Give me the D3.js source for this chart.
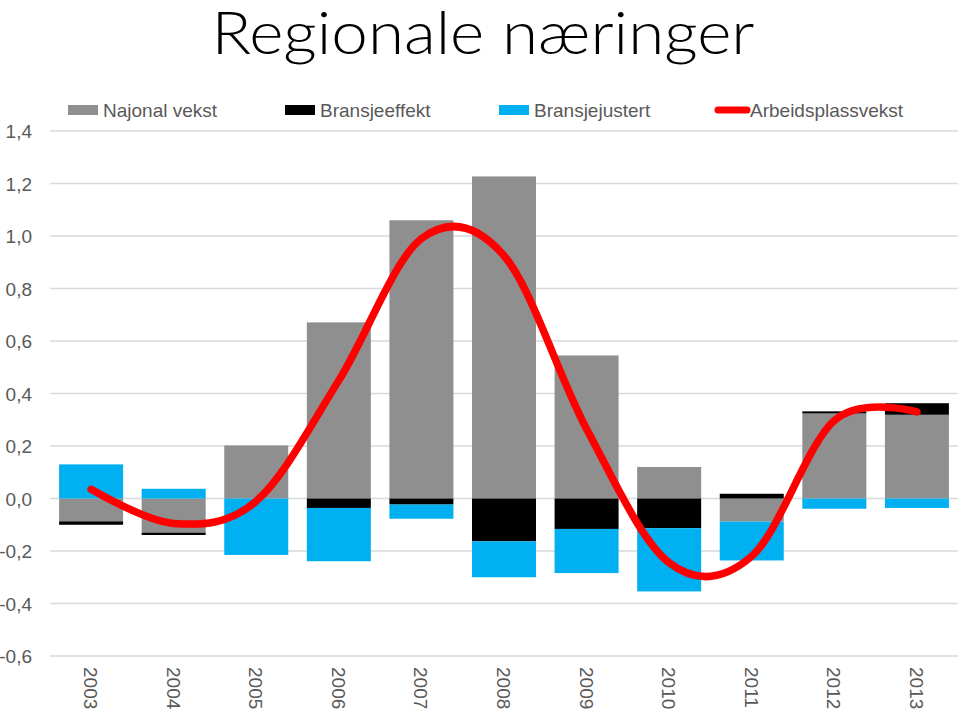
<!DOCTYPE html>
<html><head><meta charset="utf-8">
<script src="https://cdn.jsdelivr.net/npm/d3@7"></script>
<style>body{margin:0;background:#fff}svg{display:block}</style>
</head><body>
<script>
const years = ["2003","2004","2005","2006","2007","2008","2009","2010","2011","2012","2013"];
const najonalVekst   = [-0.087,-0.130, 0.202, 0.671, 1.060, 1.227, 0.545, 0.120,-0.088, 0.324, 0.319];
const bransjeeffekt  = [-0.013,-0.009, 0.000,-0.036,-0.023,-0.163,-0.116,-0.113, 0.018, 0.008, 0.044];
const bransjejustert = [ 0.130, 0.037,-0.215,-0.203,-0.054,-0.137,-0.168,-0.241,-0.148,-0.039,-0.036];
const arbeidsplassvekst = [0.035,-0.095,-0.010,0.450,0.990,0.925,0.265,-0.245,-0.220,0.297,0.330];
const yTicks = [-0.6,-0.4,-0.2,0,0.2,0.4,0.6,0.8,1.0,1.2,1.4];
const seriesNames = ["Najonal vekst","Bransjeeffekt","Bransjejustert","Arbeidsplassvekst"];
const colors = ["#8f8f8f","#000000","#00b0f0","#ff0000"];

const W=960,H=710;
const svg=d3.select("body").append("svg").attr("width",W).attr("height",H);
const x=d3.scaleBand().domain(years).range([50,958]).paddingInner(0.225).paddingOuter(0.11);
const y=d3.scaleLinear().domain([-0.6,1.4]).range([656,131]);

svg.append("text").attr("x",483).attr("y",54).attr("text-anchor","middle")
  .attr("textLength",543).attr("lengthAdjust","spacingAndGlyphs")
  .style("font-family","Lato, 'Open Sans', sans-serif").style("font-weight",300)
  .style("font-size","60px").attr("fill","#000").text("Regionale næringer");

// grid
svg.append("g").selectAll("line").data(yTicks).join("line")
  .attr("x1",50).attr("x2",958).attr("y1",d=>y(d)).attr("y2",d=>y(d))
  .attr("stroke","#d9d9d9").attr("stroke-width",1.3);

// y labels
svg.append("g").selectAll("text").data(yTicks).join("text")
  .attr("x",32).attr("y",d=>y(d)+7).attr("text-anchor","end")
  .style("font-family","'Liberation Sans', Arial, sans-serif").style("font-size","19px")
  .attr("fill","#595959").text(d=>d3.format(".1f")(d).replace(".",",").replace("−","-"));

// stacked bars
const table=years.map((yr,i)=>({year:yr,a:najonalVekst[i],b:bransjeeffekt[i],c:bransjejustert[i]}));
const stack=d3.stack().keys(["a","b","c"]).offset(d3.stackOffsetDiverging)(table);
svg.append("g").selectAll("g").data(stack).join("g").attr("fill",(d,i)=>colors[i])
  .selectAll("rect").data(d=>d).join("rect")
  .attr("x",d=>x(d.data.year)).attr("width",x.bandwidth())
  .attr("y",d=>y(Math.max(d[0],d[1]))).attr("height",d=>Math.abs(y(d[0])-y(d[1])));

// line
const line=d3.line().x((d,i)=>x(years[i])+x.bandwidth()/2).y(d=>y(d)).curve(d3.curveCatmullRom.alpha(0));
svg.append("path").datum(arbeidsplassvekst).attr("d",line).attr("fill","none")
  .attr("stroke","#ff0000").attr("stroke-width",7.5).attr("stroke-linecap","round");

// x labels
svg.append("g").selectAll("text").data(years).join("text")
  .attr("transform",d=>`translate(${x(d)+x.bandwidth()/2-7},667) rotate(90)`)
  .style("font-family","'Liberation Sans', Arial, sans-serif").style("font-size","19px")
  .attr("fill","#595959").text(d=>d);

// legend
const lg=[{x:68,t:0},{x:285,t:1},{x:499,t:2},{x:715,t:3}];
const L=svg.append("g");
lg.forEach((l,i)=>{
  if(i<3) L.append("rect").attr("x",l.x).attr("y",105).attr("width",30).attr("height",10).attr("fill",colors[i]);
  else L.append("line").attr("x1",l.x+3).attr("x2",l.x+32).attr("y1",110).attr("y2",110).attr("stroke",colors[3]).attr("stroke-width",7).attr("stroke-linecap","round");
  L.append("text").attr("x",l.x+35).attr("y",117)
   .style("font-family","'Liberation Sans', Arial, sans-serif").style("font-size","19px")
   .attr("fill","#595959").text(seriesNames[i]);
});
</script>
</body></html>
